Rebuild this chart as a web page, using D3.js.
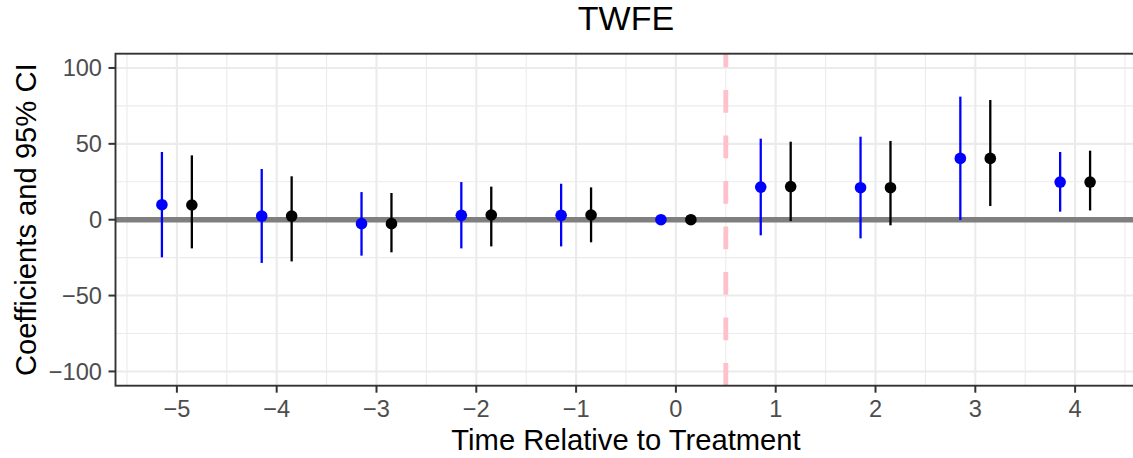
<!DOCTYPE html>
<html>
<head>
<meta charset="utf-8">
<script src="https://cdn.jsdelivr.net/npm/d3@7/dist/d3.min.js"></script>
<style>
  html, body { margin: 0; padding: 0; background: #fff; }
  svg { display: block; font-family: "Liberation Sans", Arial, Helvetica, sans-serif; }
</style>
</head>
<body>
<svg id="chart" width="1133" height="458"></svg>
<script>
// ---- data ----
const periods = [-5, -4, -3, -2, -1, 0, 1, 2, 3, 4];
const blueEst   = [9.9, 2.4, -2.6, 2.9, 2.9, 0, 21.5, 21.1, 40.4, 24.8];
const blueHigh  = [44.6, 33.4, 18.2, 24.8, 23.7, 0, 53.4, 54.7, 81.1, 44.6];
const blueLow   = [-24.8, -28.5, -23.7, -18.9, -17.6, 0, -10.3, -12.3, -0.2, 5.3];
const blackEst  = [9.7, 2.4, -2.6, 3.1, 3.1, 0, 21.8, 21.1, 40.4, 24.8];
const blackHigh = [42.4, 28.6, 17.6, 21.8, 21.3, 0, 51.4, 51.9, 78.9, 45.5];
const blackLow  = [-18.9, -27.5, -21.5, -17.6, -14.9, 0, -0.9, -3.7, 9.0, 6.1];
const xTicks = [-5, -4, -3, -2, -1, 0, 1, 2, 3, 4];
const yTicks = [-100, -50, 0, 50, 100];
const yMinor = [-75, -25, 25, 75];
const xMinor = [-5.5, -4.5, -3.5, -2.5, -1.5, -0.5, 0.5, 1.5, 2.5, 3.5, 4.5];
const dodge = 0.15;
const treatLine = 0.5;

const svg = d3.select("#chart");
const L = 115.5, R = 1136.5, T = 53.7, B = 385.7;

const x = d3.scaleLinear().domain([-5.615, 4.615]).range([L, R]);
const y = d3.scaleLinear().domain([-109.4, 109.4]).range([B, T]);

const fmt = d => (d < 0 ? "\u2212" + Math.abs(d) : String(d));

// panel background
svg.append("rect").attr("x", L).attr("y", T).attr("width", R - L).attr("height", B - T).attr("fill", "#fff");

const grid = svg.append("g");
// minor grid
grid.selectAll(".ym").data(yMinor).join("line")
  .attr("x1", L).attr("x2", R).attr("y1", d => y(d)).attr("y2", d => y(d))
  .attr("stroke", "#EBEBEB").attr("stroke-width", 1.1);
grid.selectAll(".xm").data(xMinor).join("line")
  .attr("y1", T).attr("y2", B).attr("x1", d => x(d)).attr("x2", d => x(d))
  .attr("stroke", "#EBEBEB").attr("stroke-width", 1.1);
// major grid
grid.selectAll(".yM").data(yTicks).join("line")
  .attr("x1", L).attr("x2", R).attr("y1", d => y(d)).attr("y2", d => y(d))
  .attr("stroke", "#EBEBEB").attr("stroke-width", 2.1);
grid.selectAll(".xM").data(xTicks).join("line")
  .attr("y1", T).attr("y2", B).attr("x1", d => x(d)).attr("x2", d => x(d))
  .attr("stroke", "#EBEBEB").attr("stroke-width", 2.1);

// zero line
svg.append("line").attr("x1", L).attr("x2", R).attr("y1", y(0)).attr("y2", y(0))
  .attr("stroke", "#7F7F7F").attr("stroke-width", 5.5);

// treatment dashed line (drawn bottom to top)
svg.append("line").attr("x1", x(treatLine)).attr("x2", x(treatLine)).attr("y1", B).attr("y2", T)
  .attr("stroke", "#FFC0CB").attr("stroke-width", 4.8).attr("stroke-dasharray", "22.75,22.75");

function drawSeries(est, lo, hi, off, color) {
  const g = svg.append("g");
  const data = periods.map((p, i) => ({ p, e: est[i], lo: lo[i], hi: hi[i] }));
  g.selectAll("line").data(data).join("line")
    .attr("x1", d => x(d.p + off)).attr("x2", d => x(d.p + off))
    .attr("y1", d => y(d.lo)).attr("y2", d => y(d.hi))
    .attr("stroke", color).attr("stroke-width", 2.3);
  g.selectAll("circle").data(data).join("circle")
    .attr("cx", d => x(d.p + off)).attr("cy", d => y(d.e)).attr("r", 5.8)
    .attr("fill", color);
}
drawSeries(blueEst, blueLow, blueHigh, -dodge, "#0000FF");
drawSeries(blackEst, blackLow, blackHigh, dodge, "#000000");

// panel border
svg.append("rect").attr("x", L).attr("y", T).attr("width", R - L).attr("height", B - T)
  .attr("fill", "none").attr("stroke", "#333333").attr("stroke-width", 1.9);

// y axis ticks
const ya = svg.append("g");
ya.selectAll("line").data(yTicks).join("line")
  .attr("x1", L - 7).attr("x2", L).attr("y1", d => y(d)).attr("y2", d => y(d))
  .attr("stroke", "#333333").attr("stroke-width", 2);
ya.selectAll("text").data(yTicks).join("text")
  .attr("x", 102).attr("y", d => y(d)).attr("dy", "0.355em")
  .attr("text-anchor", "end").attr("fill", "#4D4D4D").attr("font-size", 23.6)
  .text(fmt);

// x axis ticks
const xa = svg.append("g");
xa.selectAll("line").data(xTicks).join("line")
  .attr("x1", d => x(d)).attr("x2", d => x(d)).attr("y1", B).attr("y2", B + 7)
  .attr("stroke", "#333333").attr("stroke-width", 2);
xa.selectAll("text").data(xTicks).join("text")
  .attr("x", d => x(d)).attr("y", 417.3)
  .attr("text-anchor", "middle").attr("fill", "#4D4D4D").attr("font-size", 23.6)
  .text(fmt);

// titles
svg.append("text").attr("x", (L + R) / 2).attr("y", 29.5).attr("text-anchor", "middle")
  .attr("font-size", 34).attr("fill", "#000").text("TWFE");
svg.append("text").attr("x", (L + R) / 2).attr("y", 450).attr("text-anchor", "middle")
  .attr("font-size", 29.2).attr("fill", "#000").text("Time Relative to Treatment");
svg.append("text").attr("transform", `translate(35.5,${(T + B) / 2}) rotate(-90)`)
  .attr("text-anchor", "middle").attr("font-size", 29.2).attr("fill", "#000")
  .text("Coefficients and 95% CI");
</script>
</body>
</html>
